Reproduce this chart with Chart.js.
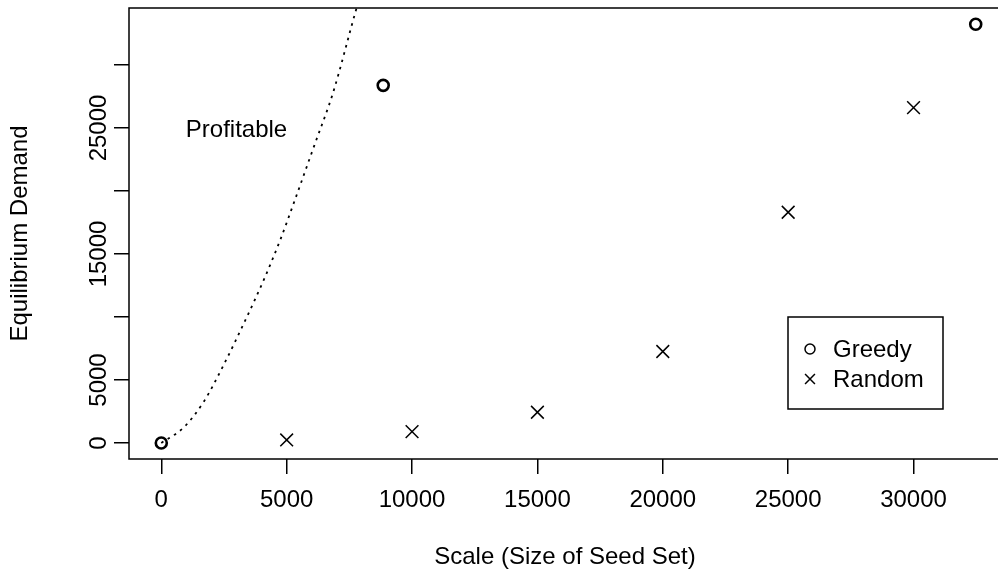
<!DOCTYPE html>
<html>
<head>
<meta charset="utf-8">
<script src="https://cdn.jsdelivr.net/npm/chart.js@4/dist/chart.umd.min.js"></script>
<style>
  html, body { margin: 0; padding: 0; background: #fff; overflow: hidden; }
  canvas { display: block; }
</style>
</head>
<body>
<canvas id="c" width="1001" height="586"></canvas>
<script>
// ---- data ----
const greedyX = [0, 8850, 32480];
const greedyY = [0, 28380, 33230];
const randomX = [5000, 10000, 15000, 20000, 25000, 30000];
const randomY = [240, 900, 2440, 7260, 18310, 26610];
const curveX = [0, 900, 1700, 2500, 3400, 4100, 4750, 5330, 6100, 6850, 7800, 8000];
const curveY = [0, 1250, 3300, 6250, 9950, 13000, 16150, 19300, 23600, 27800, 34600, 35900];
const xTickValues = [0, 5000, 10000, 15000, 20000, 25000, 30000];
const xTickLabels = ['0', '5000', '10000', '15000', '20000', '25000', '30000'];
const yTickValues = [0, 5000, 10000, 15000, 20000, 25000, 30000];
const yTickLabels = ['0', '5000', '', '15000', '', '25000', ''];
const seriesNames = ['Greedy', 'Random'];
const annotationText = 'Profitable';
const annotationAt = [3000, 25000];
const xTitle = 'Scale (Size of Seed Set)';
const yTitle = 'Equilibrium Demand';

const FONT = 'Liberation Sans, Arial, Helvetica, sans-serif';
const toPts = (xs, ys) => xs.map((x, i) => ({ x: x, y: ys[i] }));

const bgPlugin = {
  id: 'bg',
  beforeDraw(chart) {
    const ctx = chart.ctx;
    ctx.save();
    ctx.fillStyle = '#fff';
    ctx.fillRect(0, 0, chart.width, chart.height);
    ctx.restore();
  }
};

const boxPlugin = {
  id: 'box',
  afterDraw(chart) {
    const { ctx, chartArea: a, scales } = chart;
    ctx.save();
    ctx.strokeStyle = '#000';
    ctx.lineWidth = 1.5;
    ctx.strokeRect(a.left, a.top, a.right - a.left, a.bottom - a.top);
    ctx.fillStyle = '#000';
    ctx.font = '24px ' + FONT;
    ctx.textAlign = 'center';
    ctx.textBaseline = 'middle';
    ctx.fillText(annotationText, scales.x.getPixelForValue(annotationAt[0]), scales.y.getPixelForValue(annotationAt[1]) + 2);
    const lx = 788, ly = 317, lw = 155, lh = 92;
    ctx.lineWidth = 1.5;
    ctx.strokeRect(lx, ly, lw, lh);
    const rows = [349, 379];
    chart.data.datasets.slice(0, 2).forEach((ds, i) => {
      ctx.strokeStyle = '#000';
      ctx.fillStyle = '#fff';
      Chart.helpers.drawPoint(ctx, {
        pointStyle: ds.pointStyle,
        radius: ds.pointStyle === 'circle' ? 5 : 7,
        borderWidth: 1.5,
        rotation: 0
      }, 810, rows[i]);
      ctx.fillStyle = '#000';
      ctx.textAlign = 'left';
      ctx.textBaseline = 'middle';
      ctx.font = '24px ' + FONT;
      ctx.fillText(ds.label, 833, rows[i] + 1);
    });
    ctx.restore();
  }
};

const zeroPad = (s) => { s.paddingLeft = 0; s.paddingRight = 0; s.paddingTop = 0; s.paddingBottom = 0; };

new Chart(document.getElementById('c'), {
  type: 'scatter',
  data: {
    datasets: [
      { label: seriesNames[0], data: toPts(greedyX, greedyY), pointStyle: 'circle', pointRadius: 5.5, pointBorderWidth: 2.6, borderColor: '#000', backgroundColor: 'rgba(0,0,0,0)', showLine: false },
      { label: seriesNames[1], data: toPts(randomX, randomY), pointStyle: 'crossRot', pointRadius: 9, pointBorderWidth: 1.5, borderColor: '#000', backgroundColor: '#000', showLine: false },
      { label: 'curve', data: toPts(curveX, curveY), showLine: true, pointRadius: 0, borderColor: '#000', borderWidth: 1.8, borderDash: [2.5, 5], cubicInterpolationMode: 'monotone', fill: false }
    ]
  },
  options: {
    responsive: false,
    animation: false,
    devicePixelRatio: 1,
    layout: { autoPadding: false, padding: { left: 0, right: 0, top: 8, bottom: 0 } },
    plugins: { legend: { display: false }, tooltip: { enabled: false } },
    scales: {
      x: {
        type: 'linear', min: -1288, max: 33488,
        afterBuildTicks: (s) => { s.ticks = xTickValues.map(v => ({ value: v })); },
        afterFit: (s) => { s.height = 127; zeroPad(s); },
        grid: { display: true, drawOnChartArea: false, drawTicks: true, tickLength: 15, color: '#000', lineWidth: 1.5 },
        border: { display: false },
        ticks: { color: '#000', font: { family: FONT, size: 24 }, padding: 12, maxRotation: 0, minRotation: 0, autoSkip: false,
          callback: (v) => xTickLabels[xTickValues.indexOf(v)] },
        title: { display: true, text: xTitle, color: '#000', font: { family: FONT, size: 24 }, padding: { top: 0, bottom: 14 } }
      },
      y: {
        type: 'linear', min: -1270, max: 34520,
        afterBuildTicks: (s) => { s.ticks = yTickValues.map(v => ({ value: v })); },
        afterFit: (s) => { s.width = 129; zeroPad(s); },
        grid: { display: true, drawOnChartArea: false, drawTicks: true, tickLength: 15, color: '#000', lineWidth: 1.5 },
        border: { display: false },
        ticks: { color: '#000', font: { family: FONT, size: 24 }, padding: -19, minRotation: 90, maxRotation: 90, crossAlign: 'center', autoSkip: false,
          callback: (v) => yTickLabels[yTickValues.indexOf(v)] },
        title: { display: true, text: yTitle, color: '#000', font: { family: FONT, size: 24 }, padding: { top: 6, bottom: 0 } }
      }
    }
  },
  plugins: [bgPlugin, boxPlugin]
});
</script>
</body>
</html>
